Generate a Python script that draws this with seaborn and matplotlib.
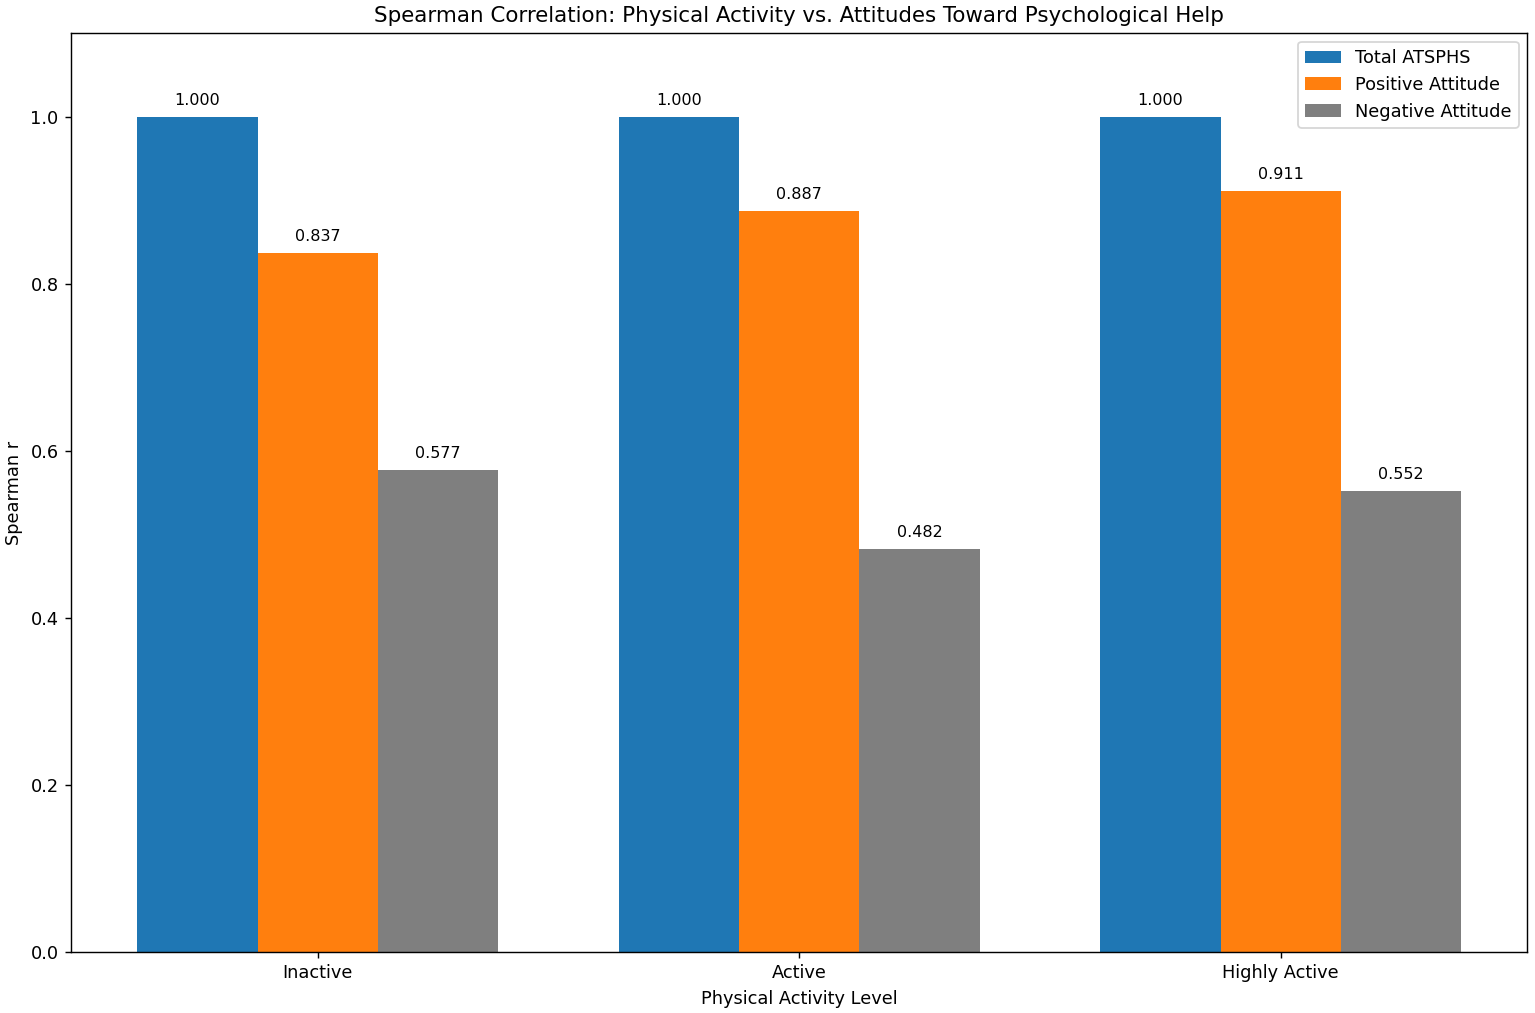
import matplotlib
matplotlib.use("Agg")
import matplotlib.pyplot as plt
import seaborn as sns
import pandas as pd

levels = ["Inactive", "Active", "Highly Active"]
series = ["Total ATSPHS", "Positive Attitude", "Negative Attitude"]
total_vals = [1.000, 1.000, 1.000]
positive_vals = [0.837, 0.887, 0.911]
negative_vals = [0.577, 0.482, 0.552]
colors = ["#1f77b4", "#ff7f0e", "#7f7f7f"]

rows = []
for name, vals in zip(series, [total_vals, positive_vals, negative_vals]):
    for lvl, v in zip(levels, vals):
        rows.append({"Level": lvl, "Measure": name, "r": v})
df = pd.DataFrame(rows)

fig = plt.figure(figsize=(1535 / 128, 1013 / 128), dpi=128)
ax = fig.add_axes([0.0463, 0.0602, 0.9488, 0.9072])

sns.barplot(data=df, x="Level", y="r", hue="Measure", order=levels,
            hue_order=series, palette=colors, saturation=1, width=0.75,
            errorbar=None, linewidth=0, ax=ax)

for c in ax.containers:
    ax.bar_label(c, fmt="%.3f", padding=5, fontsize=9)

ax.set_xlim(-0.5125, 2.5125)
ax.set_ylim(0, 1.1)
ax.set_title("Spearman Correlation: Physical Activity vs. Attitudes Toward Psychological Help", fontsize=12)
ax.set_xlabel("Physical Activity Level", fontsize=10)
ax.set_ylabel("Spearman r", fontsize=10)
ax.tick_params(labelsize=10)
ax.legend(title=None, loc="upper right", fontsize=10)

fig.savefig("out.png", dpi=128)
